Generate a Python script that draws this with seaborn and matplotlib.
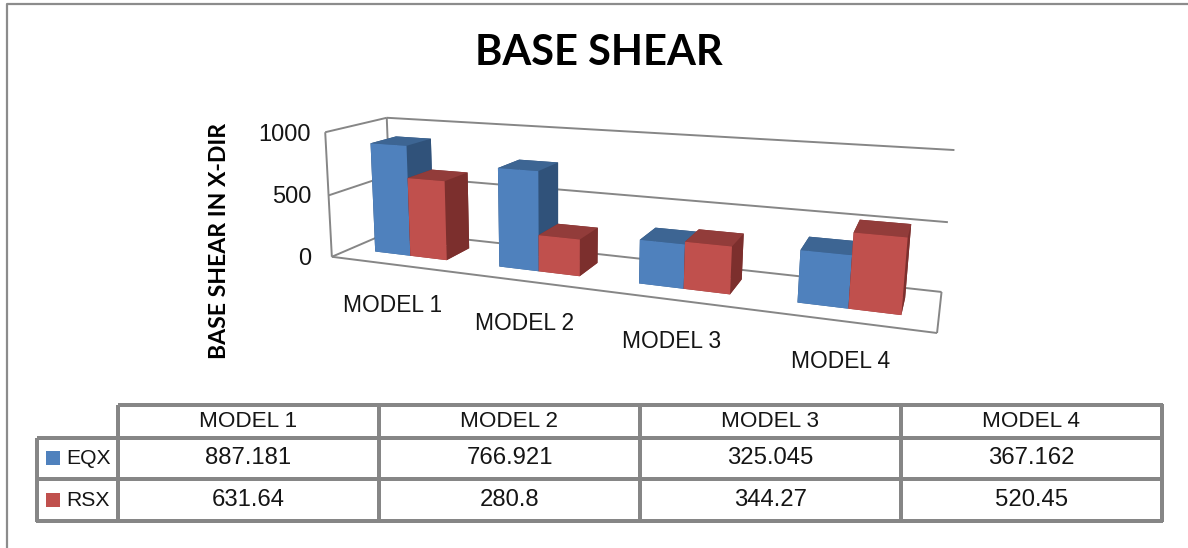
import numpy as np
import matplotlib
matplotlib.use("Agg")
import matplotlib.pyplot as plt
from mpl_toolkits.mplot3d.art3d import Line3DCollection
import seaborn as sns

# chart values
models = ["MODEL 1", "MODEL 2", "MODEL 3", "MODEL 4"]
series_names = ["EQX", "RSX"]
eqx = [887.181, 766.921, 325.045, 367.162]
rsx = [631.64, 280.8, 344.27, 520.45]
eqx_labels = ["887.181", "766.921", "325.045", "367.162"]
rsx_labels = ["631.64", "280.8", "344.27", "520.45"]
y_ticks = [0, 500, 1000]

W, H = 1188, 548
GREY = "#868686"
TEXT = "#151515"

sns.set_theme(style="white")
plt.rcParams["font.family"] = ["Liberation Sans", "DejaVu Sans"]
NARROW = ["Lato", "Liberation Sans", "DejaVu Sans"]

face_colors = sns.color_palette(["#4F81BD", "#C0504D"])
top_colors = sns.color_palette(["#3D6593", "#923C3A"])
side_colors = sns.color_palette(["#30527A", "#7C2F2D"])


def px_axes(fig, x0, y0, x1, y1):
    # axes from pixel box, y counted from the top
    return fig.add_axes([x0 / W, 1 - y1 / H, (x1 - x0) / W, (y1 - y0) / H])


def solve_projection():
    # box corners (category, depth, value) and where they sit in the picture
    world = [(0, 0, 0), (0, 0, 1000), (0, 1, 0), (0, 1, 1000),
             (4, 1, 0), (4, 1, 1000), (4, 0, 0)]
    screen = [(335, 257), (322, 132), (388, 231), (390, 118),
              (942, 292), (954, 150), (937, 333)]
    rows, rhs = [], []
    for (x, y, z), (u, v) in zip(world, screen):
        v = H - v
        rows.append([x, y, z, 1, 0, 0, 0, 0, -u * x, -u * y, -u * z])
        rows.append([0, 0, 0, 0, x, y, z, 1, -v * x, -v * y, -v * z])
        rhs += [u, v]
    p = np.linalg.lstsq(np.array(rows, float), np.array(rhs, float), rcond=None)[0]
    return np.array([
        p[0:4],
        p[4:8],
        [-0.1, 10, -0.001, 0],
        [p[8], p[9], p[10], 1],
    ])


fig = plt.figure(figsize=(W / 100, H / 100), dpi=100, facecolor="white")

# outer frame, only left and top show
frame = fig.add_axes([0, 0, 1, 1], facecolor="none")
frame.set_xlim(0, W)
frame.set_ylim(H, 0)
frame.axis("off")
frame.plot([7, 7, W], [H, 4, 4], color="#8C8C8C", lw=1.6)

# 3D part, square axes so the pixel scale is equal both ways
ax = fig.add_axes([0, (H - W) / 2 / H, 1, W / H], projection="3d", computed_zorder=False)
ax.patch.set_alpha(0)
proj = solve_projection()
ax.get_proj = lambda: proj
ax.set_axis_off()

walls = [
    [(0, 0, 0), (0, 0, 1000)],
    [(0, 0, 1000), (0, 1, 1000)],
    [(0, 1, 1000), (0, 1, 0)],
    [(0, 1, 0), (0, 0, 0)],
    [(0, 0, 500), (0, 1, 500)],
    [(0, 1, 500), (4, 1, 500)],
    [(0, 1, 1000), (4, 1, 1000)],
    [(0, 1, 0), (4, 1, 0)],
    [(4, 1, 0), (4, 0, 0)],
    [(4, 0, 0), (0, 0, 0)],
]
ax.add_collection3d(Line3DCollection(walls, colors=GREY, linewidths=1.4, zorder=1))

bar_w = 0.295
gap = 0.21
y_front, bar_depth = 0.3, 0.43
order = 2
for i in range(len(models)):
    for s, vals in enumerate([eqx, rsx]):
        cols = [top_colors[s], top_colors[s], face_colors[s],
                side_colors[s], side_colors[s], side_colors[s]]
        ax.bar3d(i + gap + s * bar_w, y_front, 0, bar_w, bar_depth, vals[i],
                 color=cols, shade=False, linewidth=0, zorder=order)
        order += 1

ax.viewLim.intervalx = (0, W)
ax.viewLim.intervaly = ((H - W) / 2, (H + W) / 2)

# text around the 3D box
frame.set_zorder(5)
frame.text(599, 53, "BASE SHEAR", ha="center", va="center", fontsize=30,
           fontweight="bold", family=NARROW, color="black")
frame.text(219, 241, "BASE SHEAR IN X-DIR", ha="center", va="center", rotation=90,
           fontsize=16.6, fontweight="bold", family=NARROW, color="black")
for tick, yy in zip(y_ticks, [259, 197, 135]):
    frame.text(311, yy, str(tick), ha="right", va="center", fontsize=17, color=TEXT)
for name, xx, yy in zip(models, [393, 525, 672, 841], [306, 323, 341, 362]):
    frame.text(xx, yy, name, ha="center", va="center", fontsize=16.4, color=TEXT)

# data table
hm_args = dict(cmap=["white"], cbar=False, xticklabels=False, yticklabels=False,
               fmt="", linewidths=1.5, linecolor=GREY,
               annot_kws={"fontsize": 17.2, "color": TEXT})

head_ax = px_axes(fig, 118, 405, 1162, 437.5)
sns.heatmap(np.zeros((1, 4)), annot=np.array([models]), ax=head_ax,
            **{**hm_args, "annot_kws": {"fontsize": 16.2, "color": TEXT}})

body_ax = px_axes(fig, 118, 437.5, 1162, 521)
sns.heatmap(np.zeros((2, 4)), annot=np.array([eqx_labels, rsx_labels]), ax=body_ax, **hm_args)

key_ax = px_axes(fig, 37, 437.5, 118, 521)
sns.heatmap(np.zeros((2, 1)), ax=key_ax, **{k: v for k, v in hm_args.items()
                                            if k not in ("fmt", "annot_kws")})
for a in (head_ax, body_ax, key_ax):
    a.collections[0].set_clip_on(False)
    a.set_xlabel("")
    a.set_ylabel("")
for s, name in enumerate(series_names):
    key_ax.scatter(0.20, s + 0.5, marker="s", s=115, color=face_colors[s], linewidths=0)
    key_ax.text(0.36, s + 0.5, name, ha="left", va="center", fontsize=15.2, color=TEXT)

fig.savefig("out.png", dpi=100)
